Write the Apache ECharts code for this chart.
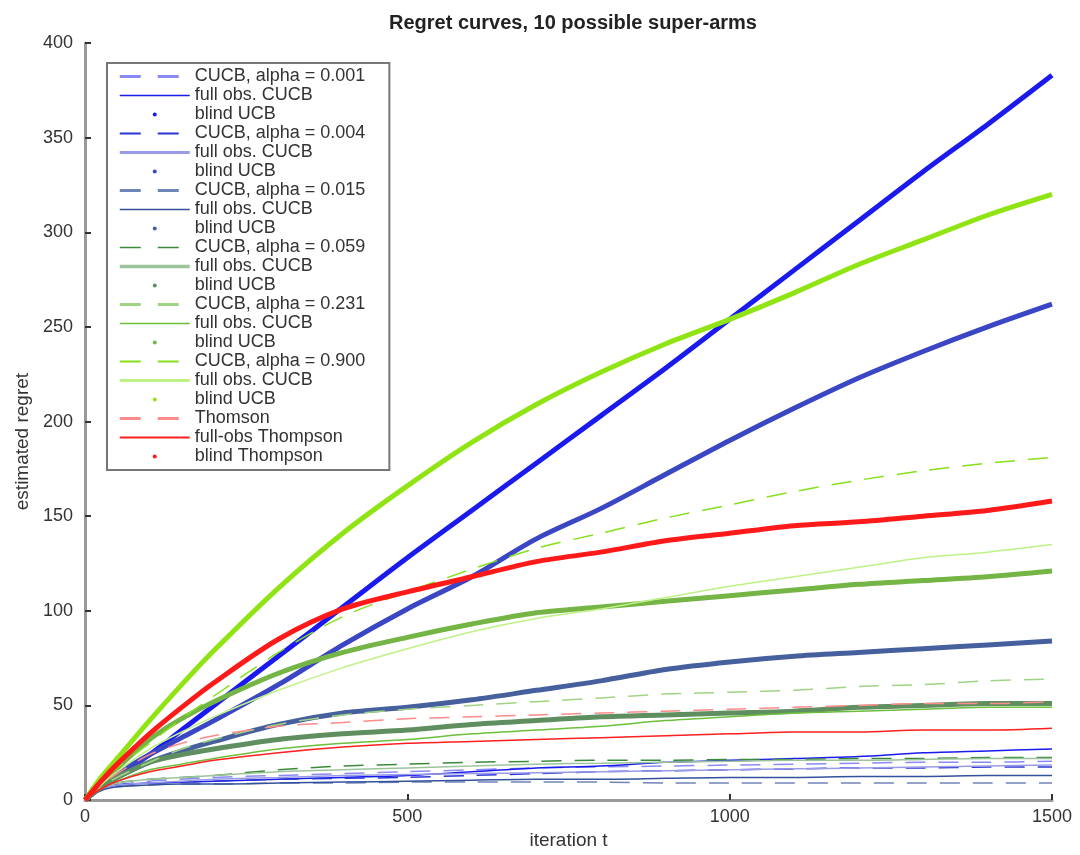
<!DOCTYPE html>
<html><head><meta charset="utf-8">
<script src="https://cdn.jsdelivr.net/npm/echarts@6/dist/echarts.min.js"></script>
<style>html,body{margin:0;padding:0;background:#fff}#c{width:1080px;height:855px}</style>
</head><body><div id="c"></div>
<script>
// ---------- data ----------
const iterations = [0,25,50,100,150,200,300,400,500,600,700,800,900,1000,1100,1200,1300,1400,1500];
const xTicks = [0,500,1000,1500];
const yTicks = [0,50,100,150,200,250,300,350,400];

const legendLabels = [
  'CUCB, alpha = 0.001','full obs. CUCB','blind UCB',
  'CUCB, alpha = 0.004','full obs. CUCB','blind UCB',
  'CUCB, alpha = 0.015','full obs. CUCB','blind UCB',
  'CUCB, alpha = 0.059','full obs. CUCB','blind UCB',
  'CUCB, alpha = 0.231','full obs. CUCB','blind UCB',
  'CUCB, alpha = 0.900','full obs. CUCB','blind UCB',
  'Thomson','full-obs Thompson','blind Thompson'
];

const cucb_0001  = [0,6,8,10,11,12,13,14,15,16,17,17.5,18,18.5,19,19.5,20,20,20.5];
const full_0001  = [0,6,8,9,9.5,10,11,12,13,15,17,18,20,21,22,23,25,26,27];
const blind_0001 = [0,7,13,24,37,50,76,102,128,153,178,203,228,254,280,306,332,357,383];

const cucb_0004  = [0,6,8,9,9.5,10,11,11.5,12,13,14,15,15.5,16,16.5,17,17,17.5,17.5];
const full_0004  = [0,6,8,9,10,11,12,13,13.5,14,14.5,15,15.5,16,16.5,17,17.5,18,18.5];
const blind_0004 = [0,8,14,24,33,42,61,82,101,118,138,154,172,190,207,223,237,250,262];

const cucb_0015  = [0,5,7,8,8.5,8.5,9,9,9.5,9.5,9.5,9.5,9,9,9,9,9,9,9];
const full_0015  = [0,5,7,8,8.5,8.5,9,9.5,10,10.5,11,11,11.5,12,12,12.5,12.5,13,13];
const blind_0015 = [0,7,12,20,26,31,40,46,49,53,58,63,69,73,76,78,80,82,84];

const cucb_0059  = [0,6,9,11,12,13,16,18,19,20,20.5,21,21,21.5,21.5,22,22,22.5,22.5];
const full_0059  = [0,6,9,11,12,13,15,16,17,18,19,19.5,20,20.5,21,21,21.5,22,22];
const blind_0059 = [0,7,12,20,24,27,32,35,37,40,42,44,45,46,47,49,50,51,51];

const cucb_0231  = [0,7,12,20,27,32,40,45,48,50,52,54,56,57,58,60,61,63,64];
const full_0231  = [0,6,10,16,19,22,27,30,32,35,37,39,42,44,46,47,48,49,49];
const blind_0231 = [0,9,17,32,43,52,67,78,86,93,99,102,105,108,111,114,116,118,121];

const cucb_0900  = [0,9,17,30,43,55,78,97,110,122,133,141,149,156,163,169,174,178,181];
const full_0900  = [0,8,15,27,36,44,58,70,80,89,96,101,107,113,118,123,128,131,135];
const blind_0900 = [0,12,22,42,61,79,112,141,166,189,209,226,241,254,268,283,296,309,320];

const thompson       = [0,8,14,24,30,34,39,41,43,44,45,46,47,48,49,50,51,51,52];
const full_thompson  = [0,6,10,15,18,21,25,28,30,31,32,33,34,35,36,36,37,37,38];
const blind_thompson = [0,10,19,35,49,62,85,101,110,118,126,131,137,141,145,147,150,153,158];

const seriesValues = [
  cucb_0001, full_0001, blind_0001,
  cucb_0004, full_0004, blind_0004,
  cucb_0015, full_0015, blind_0015,
  cucb_0059, full_0059, blind_0059,
  cucb_0231, full_0231, blind_0231,
  cucb_0900, full_0900, blind_0900,
  thompson, full_thompson, blind_thompson
];

// ---------- styles ----------
const colors = [
  '#8a8af5','#1a1aee','#1a1aee',
  '#2b36d6','#9a9be6','#3a46c4',
  '#6f84b8','#34529c','#46609e',
  '#3a8a3a','#9cc49c','#5f8f60',
  '#a0d484','#6cbf3a','#74b545',
  '#86e01a','#bff286','#90e414',
  '#ff8a8a','#ff2020','#ff1a1a'
];
const kinds = ['dash','solid','blind'];
const legendWidths = [
  3,1.5,0, 2,3,0, 3,1.5,0, 1.5,3.5,0, 3,1.5,0, 2,3,0, 3,2,0
];

const series = seriesValues.map((vals, i) => {
  const kind = i === 18 ? 'dash' : i === 19 ? 'solid' : i === 20 ? 'blind' : kinds[i % 3];
  return {
    name: legendLabels[i] + '#' + i,
    type: 'line',
    data: iterations.map((t, k) => [t, vals[k]]),
    symbol: 'none',
    showSymbol: false,
    smooth: 0.3,
    animation: false,
    color: colors[i],
    lineStyle: {
      color: colors[i],
      width: kind === 'blind' ? 5 : 1.5,
      type: kind === 'dash' ? [20, 13] : 'solid'
    },
    z: 2
  };
});

const legendData = series.map((s, i) => {
  const kind = i === 18 ? 'dash' : i === 19 ? 'solid' : i === 20 ? 'blind' : kinds[i % 3];
  if (kind === 'blind') return { name: s.name, icon: 'circle' };
  return {
    name: s.name,
    itemStyle: { opacity: 0 },
    lineStyle: { width: legendWidths[i], type: kind === 'dash' ? [21, 17] : 'solid' }
  };
});

const chart = echarts.init(document.getElementById('c'), null, { renderer: 'canvas' });
chart.setOption({
  backgroundColor: '#fff',
  animation: false,
  title: {
    text: 'Regret curves, 10 possible super-arms',
    left: 568, top: 8, textAlign: 'center',
    textStyle: { fontFamily: 'Liberation Sans', fontWeight: 'bold', fontSize: 20, color: '#222' }
  },
  grid: { left: 85, right: 28, top: 43, bottom: 49, containLabel: false },
  xAxis: {
    type: 'value', min: 0, max: 1500, interval: 500,
    name: 'iteration t', nameLocation: 'middle', nameGap: 30,
    nameTextStyle: { fontFamily: 'Liberation Sans', fontSize: 19, color: '#333' },
    axisLine: { lineStyle: { color: '#9a9a9a', width: 3 } },
    axisTick: { inside: true, length: 6, lineStyle: { color: '#333', width: 2 } },
    axisLabel: { fontFamily: 'Liberation Sans', fontSize: 18, color: '#333', margin: 8,
                 formatter: v => String(v) },
    splitLine: { show: false }
  },
  yAxis: {
    type: 'value', min: 0, max: 400, interval: 50,
    name: 'estimated regret', nameLocation: 'middle', nameGap: 52,
    nameTextStyle: { fontFamily: 'Liberation Sans', fontSize: 19, color: '#333', padding: [0, 0, 0, -40] },
    axisLine: { show: true, lineStyle: { color: '#9a9a9a', width: 3 } },
    axisTick: { show: true, inside: true, length: 6, lineStyle: { color: '#333', width: 2 } },
    axisLabel: { fontFamily: 'Liberation Sans', fontSize: 18, color: '#333', margin: 12 },
    splitLine: { show: false }
  },
  legend: {
    orient: 'vertical', left: 107, top: 63,
    data: legendData,
    itemWidth: 70, itemHeight: 4, itemGap: 0, itemTextGap: 5,
    padding: [4, 24, 4, 11],
    borderColor: '#777', borderWidth: 2, backgroundColor: '#fff',
    selectedMode: false,
    formatter: n => n.split('#')[0],
    textStyle: { fontFamily: 'Liberation Sans', fontSize: 18, lineHeight: 19, color: '#333' }
  },
  series: series
});
</script></body></html>
